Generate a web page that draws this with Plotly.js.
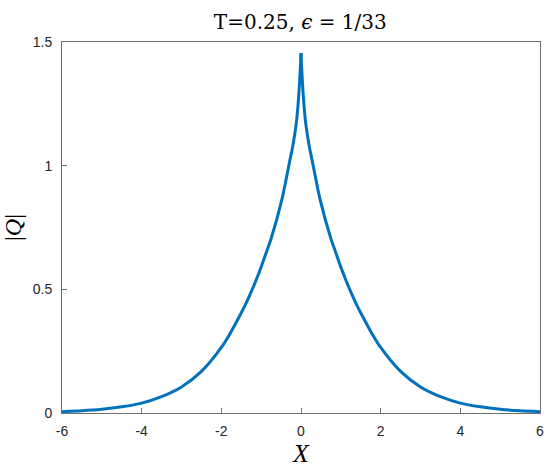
<!DOCTYPE html>
<html>
<head>
<meta charset="utf-8">
<script src="https://cdn.plot.ly/plotly-3.0.1.min.js"></script>
<style>
  html, body { margin: 0; padding: 0; background: #fff; }
  #plot { width: 550px; height: 470px; }
</style>
</head>
<body>
<div id="plot"></div>
<script>
// |Q|, right half (x >= 0); the curve is symmetric about 0
var xHalf = [0, 0.01, 0.03, 0.05, 0.08, 0.12, 0.2, 0.3, 0.47, 0.75, 0.87, 1.0, 1.12, 1.25, 1.42, 1.5, 1.75, 2.0, 2.5, 3.0, 3.5, 4.0, 4.5, 5.0, 5.5, 6.0]
var yHalf = [1.455, 1.415, 1.355, 1.30, 1.235, 1.17, 1.085, 1.005, 0.87, 0.705, 0.65, 0.59, 0.54, 0.49, 0.43, 0.405, 0.33, 0.265, 0.168, 0.105, 0.066, 0.04, 0.025, 0.015, 0.009, 0.0055]

var xTicks = [-6, -4, -2, 0, 2, 4, 6]
var yTicks = [0, 0.5, 1, 1.5]
var yTickText = ['0', '0.5', '1', '1.5']

// left branch runs from -6 up to the peak, right branch from the peak out to 6
var xLeft = xHalf.slice().reverse().map(function(v){ return -v })
var yLeft = yHalf.slice().reverse()

function branch(xs, ys){
  return {
    x: xs,
    y: ys,
    type: 'scatter',
    mode: 'lines',
    line: {color: '#0072BD', width: 3, shape: 'spline', smoothing: 0.8},
    hoverinfo: 'none'
  }
}

var axisColor = '#6e6e6e'
var tickFont = {family: 'Liberation Sans, Arial, sans-serif', size: 14, color: '#262626'}
var serif = 'Liberation Serif, DejaVu Serif, serif'

var layout = {
  width: 550,
  height: 470,
  margin: {l: 62, r: 10, t: 42, b: 57},
  paper_bgcolor: '#fff',
  plot_bgcolor: '#fff',
  showlegend: false,
  title: {
    text: 'T=0.25, <i>ϵ</i> = 1/33',
    font: {family: 'DejaVu Serif, serif', size: 20, color: '#000'},
    x: 0.546, xanchor: 'center',
    y: 0.953, yanchor: 'middle'
  },
  xaxis: {
    range: [-6, 6],
    tickvals: xTicks,
    ticktext: xTicks.map(String),
    ticks: 'inside',
    ticklen: 5,
    tickcolor: axisColor,
    ticklabelstandoff: 5,
    showline: true,
    linecolor: axisColor,
    linewidth: 1,
    mirror: true,
    showgrid: false,
    zeroline: false,
    tickfont: tickFont,
    title: {text: '<i>X</i>', font: {family: serif, size: 26, color: '#000'}, standoff: 4}
  },
  yaxis: {
    range: [0, 1.5],
    tickvals: yTicks,
    ticktext: yTickText,
    ticks: 'inside',
    ticklen: 5,
    tickcolor: axisColor,
    ticklabelstandoff: 6,
    showline: true,
    linecolor: axisColor,
    linewidth: 1,
    mirror: true,
    showgrid: false,
    zeroline: false,
    tickfont: tickFont,
    title: {text: '|<i>Q</i>|', font: {family: serif, size: 24, color: '#000'}, standoff: 5}
  }
}

Plotly.newPlot('plot', [branch(xLeft, yLeft), branch(xHalf, yHalf)], layout, {displayModeBar: false, staticPlot: true})
</script>
</body>
</html>
